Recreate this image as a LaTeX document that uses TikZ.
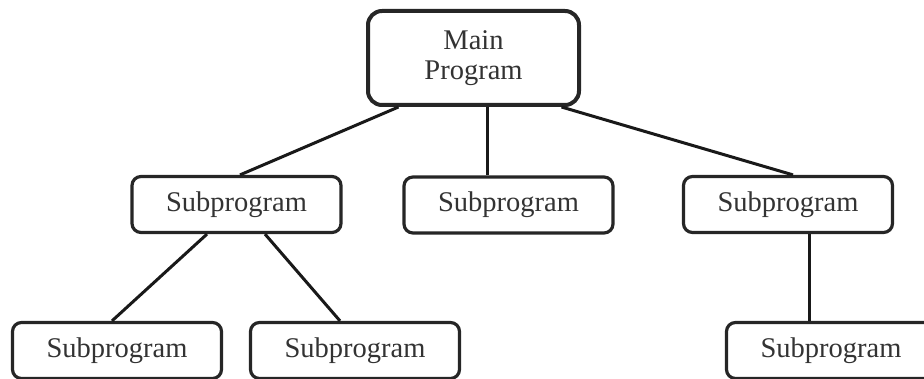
\documentclass[tikz,border=0pt]{standalone}
\usepackage{fontspec}
\setmainfont{Liberation Serif}
\usetikzlibrary{calc}
\begin{document}
\begin{tikzpicture}[x=1pt,y=-1pt,
  box/.style={draw=black!85, line width=3.2pt, rounded corners=9pt, fill=white,
    font=\fontsize{28.5}{31}\selectfont, text=black!80, inner sep=0pt,
    minimum width=209pt, minimum height=56pt},
  mainbox/.style={box, line width=4pt, rounded corners=14pt,
    minimum width=211pt, minimum height=94pt, align=center},
  link/.style={draw=black!90, line width=3pt}]
\useasboundingbox (0,0) rectangle (924,379);
\node[mainbox] (main) at (473.5,58) {Main\\[-1pt]Program};
\node[box] (sl) at (236.5,204.5) {Subprogram};
\node[box] (sm) at (508.5,205) {Subprogram};
\node[box] (sr) at (788,204.5) {Subprogram};
\node[box] (ll) at (117,350.5) {Subprogram};
\node[box] (lm) at (355,350.5) {Subprogram};
\node[box] (rr) at (831,350.5) {Subprogram};
\draw[link] ($(main.south)+(-75,0)$) -- ($(sl.north)+(3.5,0)$);
\draw[link] ($(main.south)+(13.5,0)$) -- ($(sm.north)+(-21.5,0)$);
\draw[link] ($(main.south)+(88,0)$) -- ($(sr.north)+(5,0)$);
\draw[link] ($(sl.south)+(-29.5,0)$) -- ($(ll.north)+(-5,0)$);
\draw[link] ($(sl.south)+(28.5,0)$) -- ($(lm.north)+(-15,0)$);
\draw[link] ($(sr.south)+(21,0)$) -- ($(rr.north)+(-22,0)$);
\end{tikzpicture}
\end{document}
